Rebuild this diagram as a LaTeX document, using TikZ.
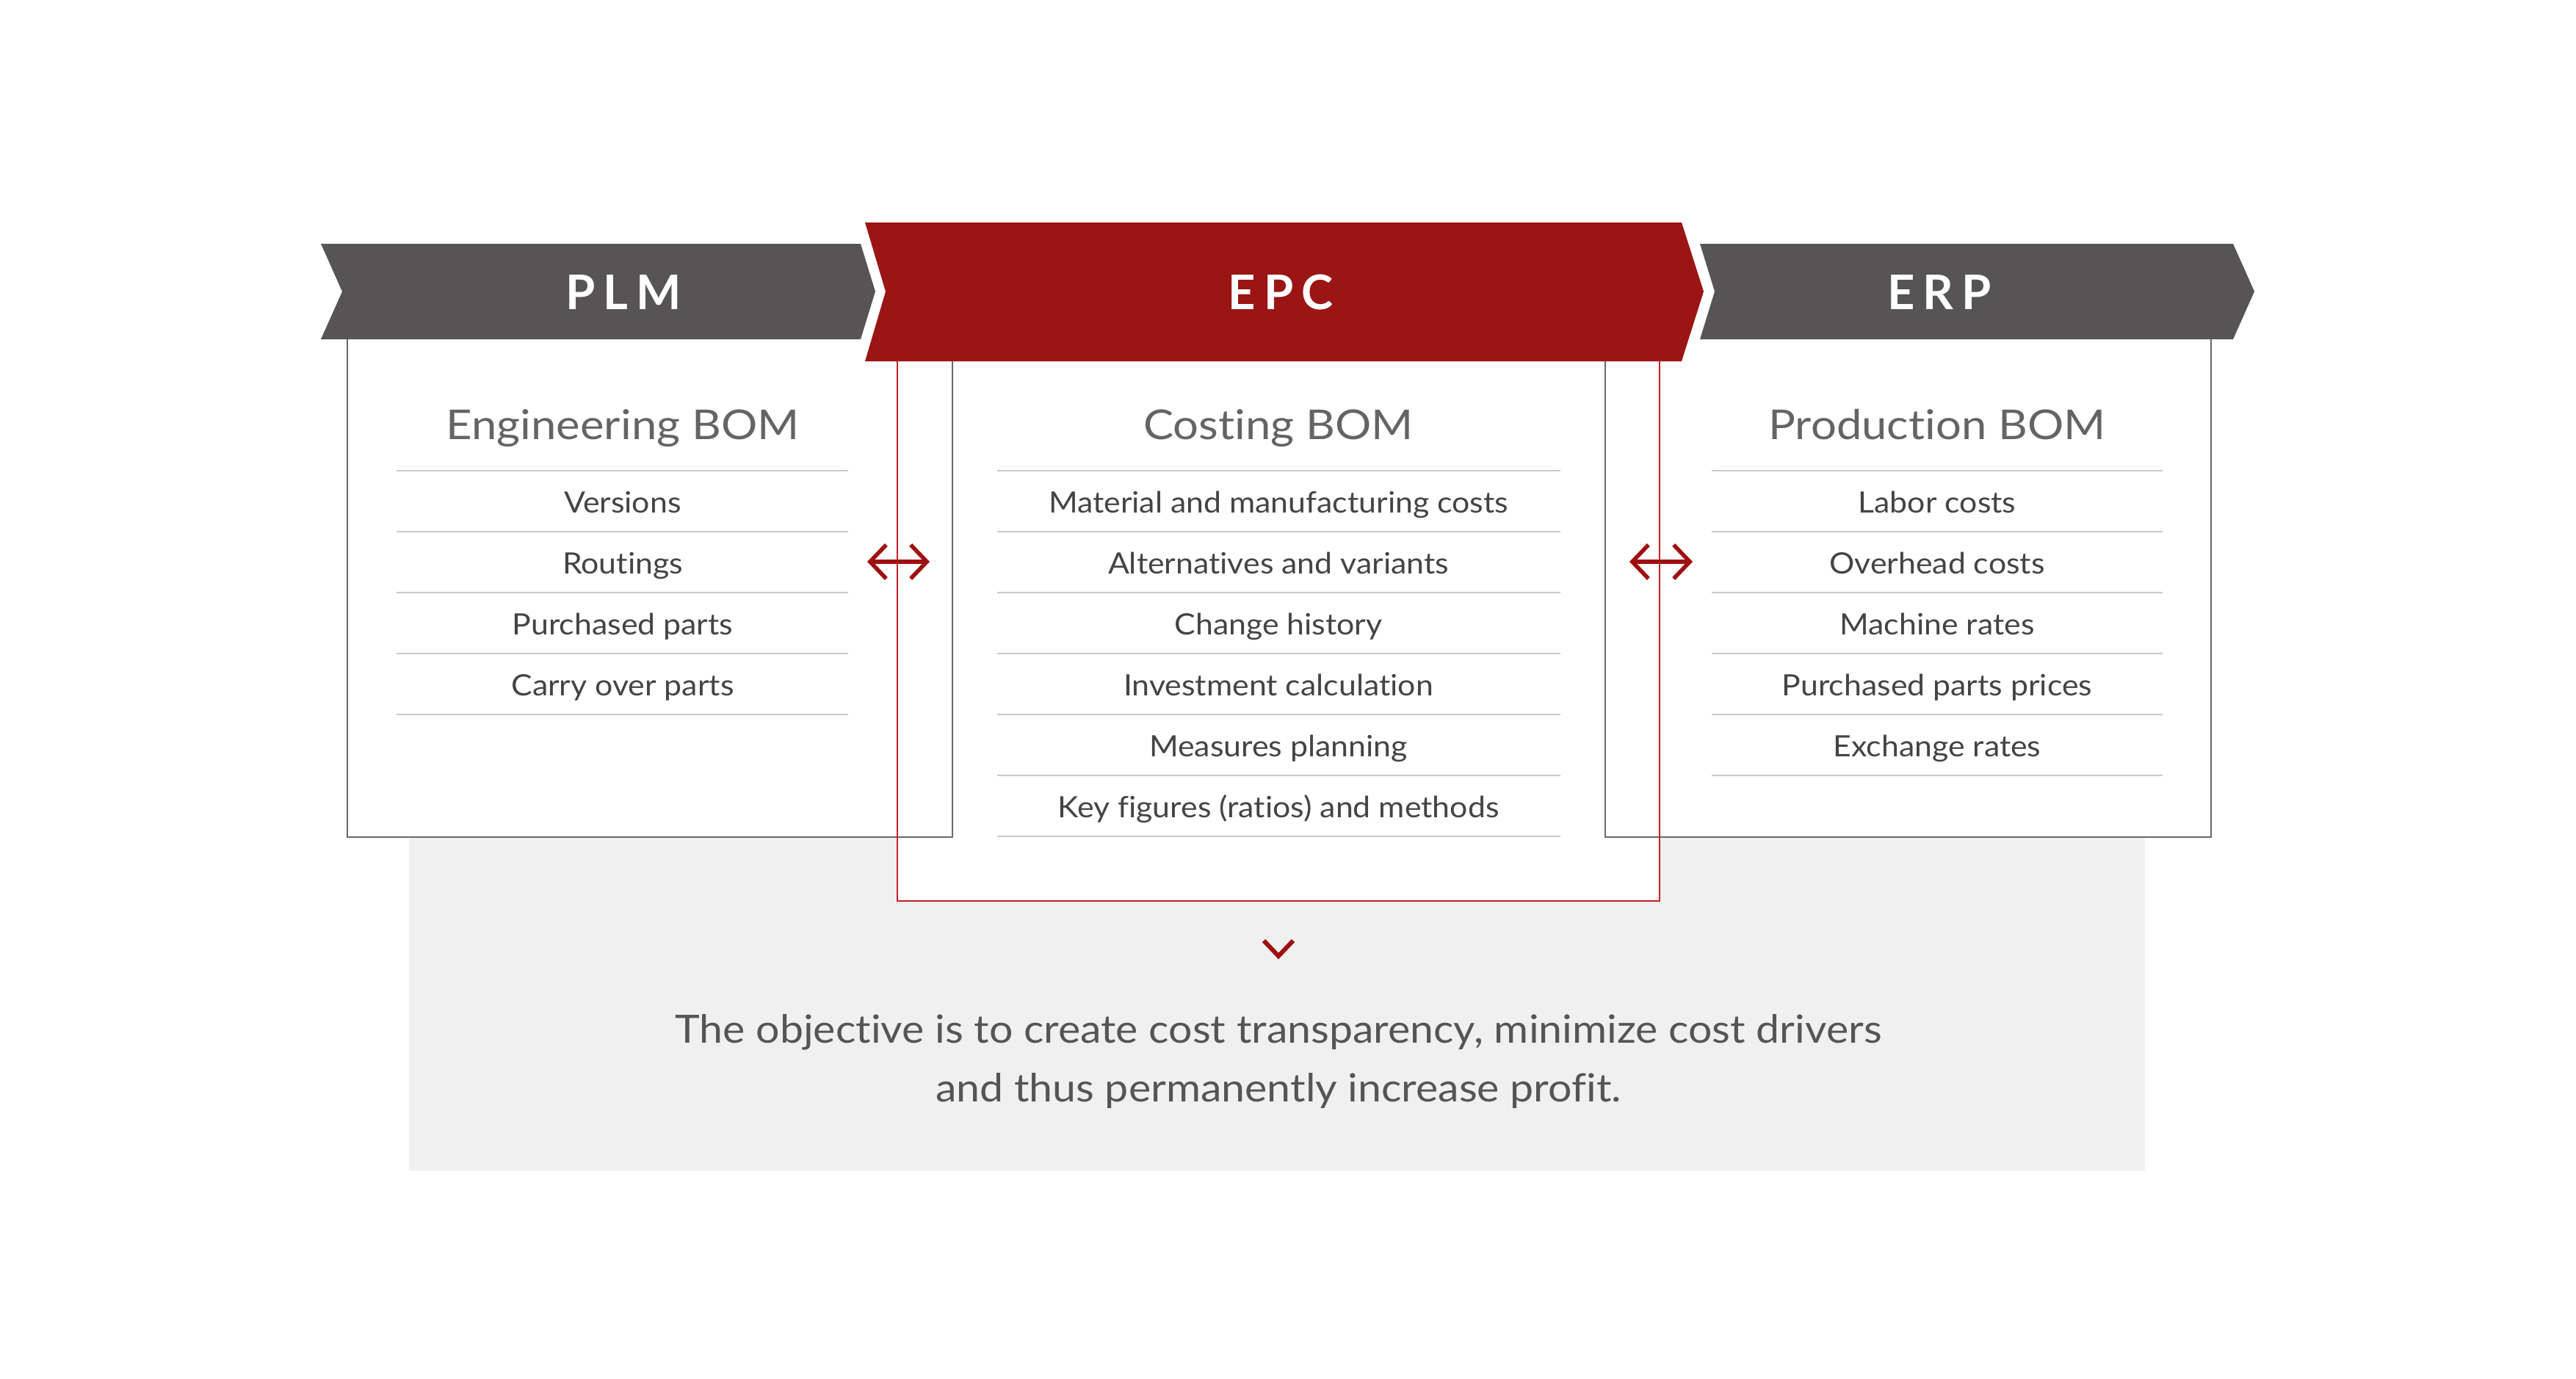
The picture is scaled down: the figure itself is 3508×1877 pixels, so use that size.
\documentclass[tikz,border=0pt]{standalone}
\usepackage{fontspec}
\setmainfont[FakeStretch=1.07,Ligatures=NoCommon]{Lato}
\newfontfamily\headfont[FakeStretch=1.10,Ligatures=NoCommon]{Lato}
\newfontfamily\bottomfont[FakeStretch=1.08,Ligatures=NoCommon]{Lato}
\newfontfamily\bandfont[LetterSpace=17]{Lato}
\usetikzlibrary{arrows.meta}
\definecolor{bandgray}{RGB}{87,84,85}
\definecolor{epcred}{RGB}{155,21,20}
\definecolor{linered}{RGB}{196,30,38}
\definecolor{arrowred}{RGB}{158,16,16}
\definecolor{boxgray}{RGB}{105,105,105}
\definecolor{sepgray}{RGB}{200,200,200}
\definecolor{bggray}{RGB}{240,240,240}
\definecolor{itemtext}{RGB}{68,68,68}
\definecolor{headtext}{RGB}{100,100,100}
\definecolor{bottomtext}{RGB}{85,85,85}
\tikzset{
  bandshape/.style={fill=bandgray, draw=none},
  epcshape/.style={fill=epcred, draw=none},
  boxline/.style={draw=boxgray, line width=2.5pt},
  redline/.style={draw=linered, line width=2.5pt},
  sepline/.style={draw=sepgray, line width=2.5pt},
  bandlabel/.style={anchor=base, text=white, inner sep=0pt, font=\bandfont\bfseries\fontsize{65}{70}\selectfont},
  headlabel/.style={anchor=base, text=headtext, inner sep=0pt, font=\headfont\fontsize{56}{64}\selectfont},
  itemlabel/.style={anchor=base, text=itemtext, inner sep=0pt, font=\fontsize{40}{48}\selectfont},
  bottomlabel/.style={anchor=base, text=bottomtext, inner sep=0pt, font=\bottomfont\fontsize{53}{60}\selectfont},
  dblarrow/.style={draw=arrowred, line width=5.5pt,
    {Straight Barb[length=22pt,width=46pt]}-{Straight Barb[length=22pt,width=46pt]}},
}
\begin{document}
\begin{tikzpicture}[x=1pt,y=-1pt]
\path[use as bounding box, fill=white] (0,0) rectangle (3508,1877);
% background panel
\fill[bggray] (557,1139) rectangle (2921,1594);
% fills
\fill[white] (1222,492) rectangle (2260,1227);
\fill[white] (473,462) rectangle (1297,1140);
\fill[white] (2186,462) rectangle (3011,1140);
% separator lines
\foreach \y in {641,724,807,890,973} \draw[sepline] (540,\y) -- (1155,\y);
\foreach \y in {641,724,807,890,973,1056,1139} \draw[sepline] (1358,\y) -- (2125,\y);
\foreach \y in {641,724,807,890,973,1056} \draw[sepline] (2331,\y) -- (2945,\y);
% box outlines
\draw[boxline] (473,462) -- (473,1140) -- (1297,1140) -- (1297,462);
\draw[boxline] (2186,462) -- (2186,1140) -- (3011,1140) -- (3011,462);
% red frame
\draw[redline] (1222,492) -- (1222,1227) -- (2260,1227) -- (2260,492);
% bands
\fill[bandshape] (437,332) -- (1172,332) -- (1192,397) -- (1172,462) -- (437,462) -- (466,397) -- cycle;
\fill[bandshape] (2315,332) -- (3041,332) -- (3070,397) -- (3041,462) -- (2315,462) -- (2335,397) -- cycle;
\fill[epcshape] (1178,303) -- (2290,303) -- (2320,397) -- (2290,492) -- (1178,492) -- (1206,397) -- cycle;
% band labels
\node[bandlabel] (plm) at (849,421) {PLM};
\node[bandlabel] (epc) at (1744,421) {EPC};
\node[bandlabel] (erp) at (2641,421) {ERP};
% headings
\node[headlabel] (hl) at (848,598) {Engineering BOM};
\node[headlabel] (hm) at (1741,598) {Costing BOM};
\node[headlabel] (hr) at (2638,598) {Production BOM};
% items
\foreach \t [count=\i] in {Versions,Routings,Purchased parts,Carry over parts}
  \node[itemlabel] (l\i) at (848,{641+83*(\i-1)+57}) {\t};
\foreach \t [count=\i] in {Material and manufacturing costs,Alternatives and variants,Change history,Investment calculation,Measures planning,Key figures (ratios) and methods}
  \node[itemlabel] (m\i) at (1741,{641+83*(\i-1)+57}) {\t};
\foreach \t [count=\i] in {Labor costs,Overhead costs,Machine rates,Purchased parts prices,Exchange rates}
  \node[itemlabel] (r\i) at (2638,{641+83*(\i-1)+57}) {\t};
% double arrows
\coordinate (la1) at (1181,765);
\coordinate (la2) at (1266,765);
\coordinate (ra1) at (2219,765);
\coordinate (ra2) at (2305,765);
\draw[dblarrow] (la1) -- (la2);
\draw[dblarrow] (ra1) -- (ra2);
% chevron down
\draw[arrowred, line width=6pt] (1721,1281) -- (1741,1302) -- (1761,1281);
% bottom text
\node[bottomlabel] (b1) at (1741,1420) {The objective is to create cost transparency, minimize cost drivers};
\node[bottomlabel] (b2) at (1741,1500) {and thus permanently increase profit.};
\end{tikzpicture}
\end{document}
